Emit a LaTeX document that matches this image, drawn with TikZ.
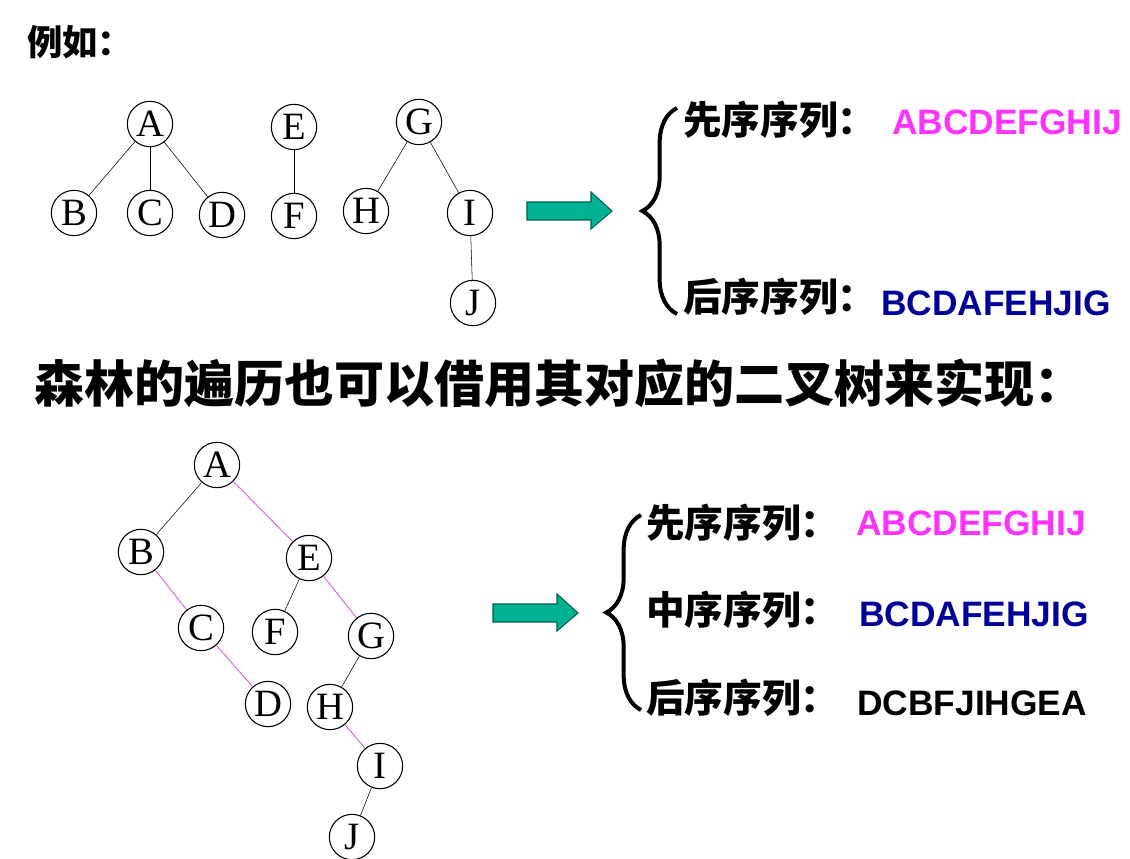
\documentclass[tikz,border=0pt]{standalone}
\usepackage{fontspec}
\setmainfont{Liberation Serif}
\newfontfamily\cjk{Noto Sans CJK SC}
\newfontfamily\seqfont{Liberation Sans}
\usetikzlibrary{decorations.pathreplacing}
\definecolor{arrowteal}{RGB}{0,178,148}
\definecolor{arrowedge}{RGB}{0,95,78}
\definecolor{seqpink}{RGB}{255,51,255}
\definecolor{seqblue}{RGB}{0,0,153}
\definecolor{linkpink}{RGB}{232,90,232}
\tikzset{
  vertex/.style={circle,draw,line width=0.8pt,minimum size=34pt,inner sep=0pt,font=\fontsize{29}{29}\selectfont},
  seqname/.style={anchor=west,inner sep=0pt,font=\cjk\bfseries\fontsize{29}{29}\selectfont},
  seqtext/.style={anchor=west,inner sep=0pt,font=\seqfont\bfseries\fontsize{26.5}{26.5}\selectfont},
  bigbrace/.style={decorate,decoration={brace,amplitude=26pt},line width=3pt},
  bigarrow/.style={fill=arrowteal,draw=arrowedge,line width=0.8pt,line join=miter},
  pinklink/.style={draw=linkpink,line width=0.7pt}
}
\begin{document}
\begin{tikzpicture}[x=0.75pt,y=-0.75pt]
  \useasboundingbox (0,0) rectangle (1130,859);

  \node [anchor=west,inner sep=0pt,font=\cjk\bfseries\fontsize{26.5}{26.5}\selectfont] (title) at (27,42) {例如：};

  \node [vertex] (A) at (150,124) {A};
  \node [vertex] (B) at (74,213) {B};
  \node [vertex] (C) at (150,213) {C};
  \node [vertex] (D) at (222,215) {D};
  \node [vertex] (E) at (294,127) {E};
  \node [vertex] (F) at (294,216) {F};
  \node [vertex] (G) at (419,122) {G};
  \node [vertex] (H) at (366,211) {H};
  \node [vertex] (I) at (470,213) {I};
  \node [vertex] (J) at (473,303) {J};

  \draw (A) -- (B);
  \draw (A) -- (C);
  \draw (A) -- (D);
  \draw (E) -- (F);
  \draw (G) -- (H);
  \draw (G) -- (I);
  \draw (I) -- (J);

  \foreach \x/\y in {527/211,493/613}
    \draw [bigarrow] (\x,\y-9) -- (\x+64,\y-9) -- (\x+64,\y-19) -- (\x+85,\y)
      -- (\x+64,\y+18) -- (\x+64,\y+9) -- (\x,\y+9) -- cycle;

  \draw [bigbrace] (677,314) -- (677,108);
  \node [seqname] (pre1) at (683,120) {先序序列：};
  \node [seqtext,text=seqpink] (pre1s) at (892,122) {ABCDEFGHIJ};
  \node [seqname] (post1) at (683,297) {后序序列：};
  \node [seqtext,text=seqblue] (post1s) at (881,303) {BCDAFEHJIG};

  \node [anchor=west,inner sep=0pt,font=\cjk\bfseries\fontsize{37.5}{37.5}\selectfont] (head) at (34,383) {森林的遍历也可以借用其对应的二叉树来实现：};

  \node [vertex] (bA) at (217,465) {A};
  \node [vertex] (bB) at (141,552) {B};
  \node [vertex] (bE) at (309,558) {E};
  \node [vertex] (bC) at (201,628) {C};
  \node [vertex] (bF) at (275,632) {F};
  \node [vertex] (bG) at (371,636) {G};
  \node [vertex] (bD) at (268,704) {D};
  \node [vertex] (bH) at (330,707) {H};
  \node [vertex] (bI) at (380,766) {I};
  \node [vertex] (bJ) at (352,837) {J};

  \draw (bA) -- (bB);
  \draw (bE) -- (bF);
  \draw (bG) -- (bH);
  \draw (bI) -- (bJ);
  \draw [pinklink] (bA) -- (bE);
  \draw [pinklink] (bB) -- (bC);
  \draw [pinklink] (bC) -- (bD);
  \draw [pinklink] (bE) -- (bG);
  \draw [pinklink] (bH) -- (bI);

  \draw [bigbrace] (641,710) -- (641,515);
  \node [seqname] (pre2) at (646,523) {先序序列：};
  \node [seqtext,text=seqpink] (pre2s) at (856,523) {ABCDEFGHIJ};
  \node [seqname] (in2) at (646,610) {中序序列：};
  \node [seqtext,text=seqblue] (in2s) at (859,614) {BCDAFEHJIG};
  \node [seqname] (post2) at (646,698) {后序序列：};
  \node [seqtext] (post2s) at (857,703) {DCBFJIHGEA};
\end{tikzpicture}
\end{document}
